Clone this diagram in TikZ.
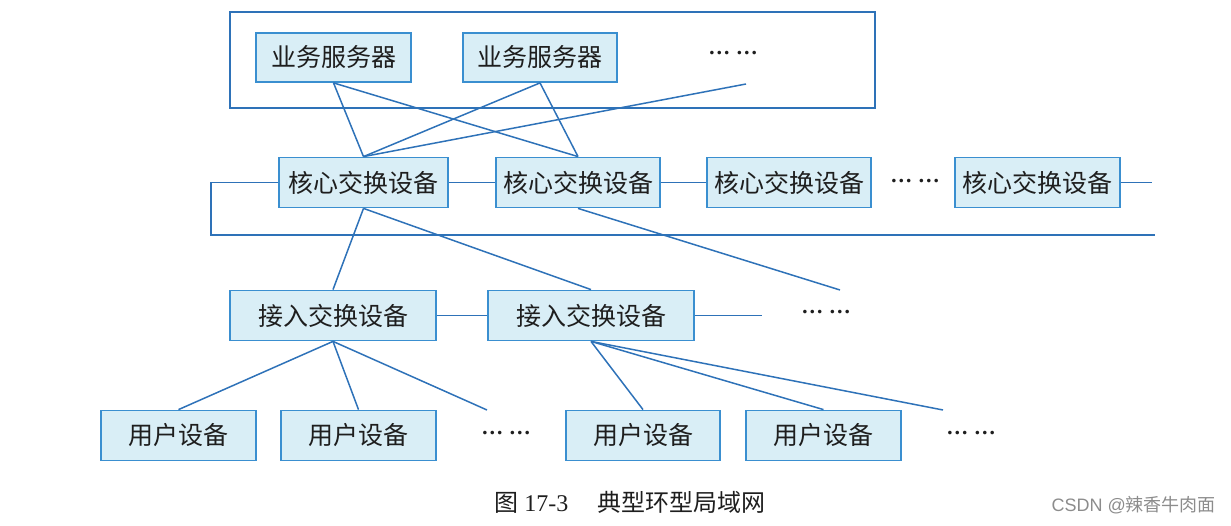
\documentclass[tikz,border=0pt]{standalone}
\usepackage{fontspec}
\setmainfont{Liberation Serif}
\newfontfamily\cjk{Noto Sans CJK SC}
\usetikzlibrary{calc}
\definecolor{boxedge}{HTML}{3A8FD0}
\definecolor{boxfill}{HTML}{D9EEF6}
\definecolor{wire}{HTML}{2E72B8}
\definecolor{txt}{HTML}{1E1E1E}
\begin{document}
\begin{tikzpicture}[x=1pt,y=-1pt,
  devbox/.style={draw=boxedge, fill=boxfill, line width=1.8pt, inner sep=0pt,
    minimum height=50pt, font=\cjk\fontsize{25}{25}\selectfont, text=txt},
  link/.style={draw=wire, line width=1.5pt},
  dots/.style={font=\rmfamily\bfseries\fontsize{22}{22}\selectfont, text=txt, inner sep=0pt}]
\useasboundingbox (0,0) rectangle (1231,526);
% server group frame
\node (grp) [draw=wire, line width=1.5pt, minimum width=645pt, minimum height=96pt, inner sep=0pt] at (552.5,60) {};
% servers
\node (s1) [devbox, minimum width=155pt, minimum height=49pt] at (333.5,57.5) {业务服务器};
\node (s2) [devbox, minimum width=154pt, minimum height=49pt] at (540,57.5) {业务服务器};
\node (d1) [dots] at (733,53) {… …};
% core switches
\node (c1) [devbox, minimum width=169pt] at (363.5,182.5) {核心交换设备};
\node (c2) [devbox, minimum width=164pt] at (578,182.5) {核心交换设备};
\node (c3) [devbox, minimum width=164pt] at (789,182.5) {核心交换设备};
\node (c4) [devbox, minimum width=165pt] at (1037.5,182.5) {核心交换设备};
\node (d2) [dots] at (915,181) {… …};
% access switches
\node (a1) [devbox, minimum width=206pt] at (333,315.5) {接入交换设备};
\node (a2) [devbox, minimum width=206pt] at (591,315.5) {接入交换设备};
\node (d3) [dots] at (826,312) {… …};
% user devices
\node (u1) [devbox, minimum width=155pt] at (178.5,435.5) {用户设备};
\node (u2) [devbox, minimum width=155pt] at (358.5,435.5) {用户设备};
\node (u3) [devbox, minimum width=154pt] at (643,435.5) {用户设备};
\node (u4) [devbox, minimum width=155pt] at (823.5,435.5) {用户设备};
\node (d4) [dots] at (506,433) {… …};
\node (d5) [dots] at (971,433) {… …};
% free ends
\coordinate (fs) at (746,84);
\coordinate (ringBL) at (211,235);
\coordinate (ringR) at (1155,235);
\coordinate (c4out) at (1152,182.5);
\coordinate (fc) at (840,290);
\coordinate (fa) at (762,315.5);
\coordinate (fu1) at (487,410);
\coordinate (fu2) at (943,410);
% server links
\draw[link] (s1.south) -- (c1.north);
\draw[link] (s1.south) -- (c2.north);
\draw[link] (s2.south) -- (c1.north);
\draw[link] (s2.south) -- (c2.north);
\draw[link] (fs) -- (c1.north);
% ring
\draw[link] (c1.west) -| (ringBL) -- (ringR);
\draw[link] (c1.east) -- (c2.west);
\draw[link] (c2.east) -- (c3.west);
\draw[link] (c4.east) -- (c4out);
% core to access
\draw[link] (c1.south) -- (a1.north);
\draw[link] (c1.south) -- (a2.north);
\draw[link] (c2.south) -- (fc);
\draw[link] (a1.east) -- (a2.west);
\draw[link] (a2.east) -- (fa);
% access to users
\draw[link] (a1.south) -- (u1.north);
\draw[link] (a1.south) -- (u2.north);
\draw[link] (a1.south) -- (fu1);
\draw[link] (a2.south) -- (u3.north);
\draw[link] (a2.south) -- (u4.north);
\draw[link] (a2.south) -- (fu2);
% caption
\node (cap) [font=\cjk\fontsize{24}{24}\selectfont, text=txt, inner sep=0pt] at (630,502) {图 {\rmfamily 17-3}\hspace{1.2em}典型环型局域网};
\node (mark) [font=\fontspec{Liberation Sans}\fontsize{18}{18}\selectfont, text=black!45, inner sep=0pt, anchor=east] at (1216,505) {CSDN @{\cjk 辣香牛肉面}};
\end{tikzpicture}
\end{document}
